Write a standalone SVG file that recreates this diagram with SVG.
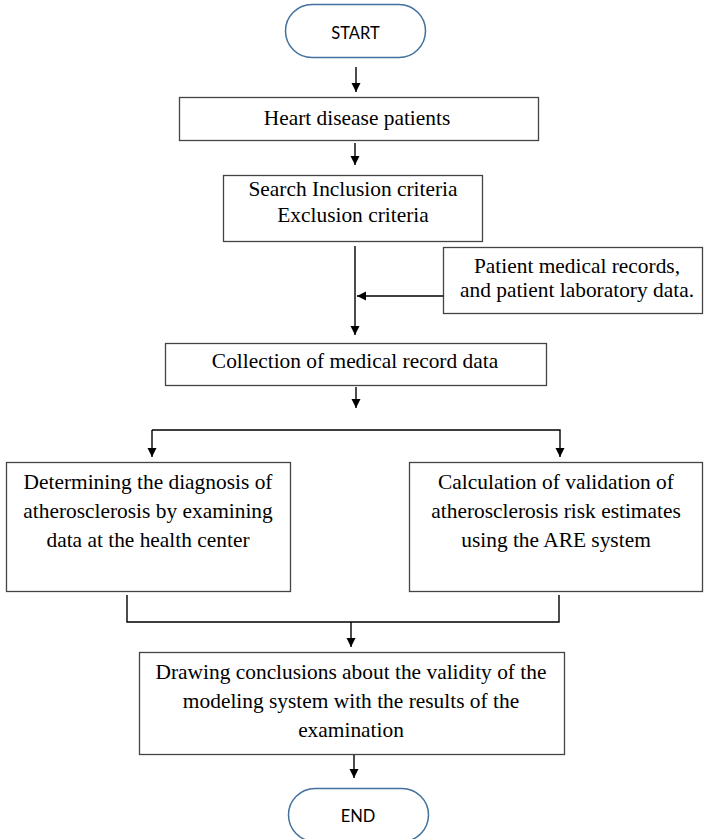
<svg xmlns="http://www.w3.org/2000/svg" width="704" height="839" viewBox="0 0 704 839">
<defs>
<marker id="ah" markerWidth="10" markerHeight="10" refX="9" refY="4.5" orient="auto" markerUnits="userSpaceOnUse">
<path d="M0,0 L9,4.5 L0,9 Z" fill="#000"/>
</marker>
<style>
.box{fill:#fff;stroke:#444;stroke-width:1.3}
.term{fill:#fff;stroke:#41719c;stroke-width:1.5}
.t{font-family:"Liberation Serif","Times New Roman",serif;font-size:21.4px;fill:#000;text-anchor:middle}
.ts{font-family:Lato,"Liberation Sans",sans-serif;font-size:16.5px;fill:#000;text-anchor:middle}
.c{fill:none;stroke:#000;stroke-width:1.4}
</style>
</defs>
<rect width="704" height="839" fill="#fff"/>
<g id="start">
<rect class="term" x="285.5" y="4.5" width="140" height="53" rx="26.5"/>
<text class="ts" x="355.5" y="39">START</text>
</g>
<g id="heart">
<rect class="box" x="179.5" y="97.5" width="359" height="43"/>
<text class="t" x="357" y="125">Heart disease patients</text>
</g>
<g id="search">
<rect class="box" x="223.5" y="175.5" width="259" height="66"/>
<text class="t" x="353" y="196">Search Inclusion criteria</text>
<text class="t" x="353" y="222">Exclusion criteria</text>
</g>
<g id="records">
<rect class="box" x="443.5" y="247.5" width="259" height="66"/>
<text class="t" x="577" y="273">Patient medical records,</text>
<text class="t" x="577" y="297">and patient laboratory data.</text>
</g>
<g id="collection">
<rect class="box" x="165.5" y="343.5" width="381" height="42"/>
<text class="t" x="355" y="368">Collection of medical record data</text>
</g>
<g id="diagnosis">
<rect class="box" x="6.5" y="462.5" width="284" height="129"/>
<text class="t" x="148" y="489">Determining the diagnosis of</text>
<text class="t" x="148" y="518">atherosclerosis by examining</text>
<text class="t" x="148" y="547">data at the health center</text>
</g>
<g id="calculation">
<rect class="box" x="409.5" y="462.5" width="293" height="129"/>
<text class="t" x="556" y="489">Calculation of validation of</text>
<text class="t" x="556" y="518">atherosclerosis risk estimates</text>
<text class="t" x="556" y="547">using the ARE system</text>
</g>
<g id="conclusion">
<rect class="box" x="139.5" y="652.5" width="425" height="102"/>
<text class="t" x="351" y="679">Drawing conclusions about the validity of the</text>
<text class="t" x="351" y="708">modeling system with the results of the</text>
<text class="t" x="351" y="737">examination</text>
</g>
<g id="end">
<rect class="term" x="288.5" y="788.5" width="140" height="53" rx="26.5"/>
<text class="ts" x="358" y="822">END</text>
</g>
<g id="connectors">
<line class="c" x1="356" y1="67" x2="356" y2="92" marker-end="url(#ah)"/>
<line class="c" x1="355" y1="143" x2="355" y2="165" marker-end="url(#ah)"/>
<line class="c" x1="355" y1="246" x2="355" y2="335" marker-end="url(#ah)"/>
<line class="c" x1="443" y1="296" x2="357" y2="296" marker-end="url(#ah)"/>
<line class="c" x1="356" y1="387" x2="356" y2="408" marker-end="url(#ah)"/>
<polyline class="c" points="152,430 560,430 560,457" marker-end="url(#ah)"/>
<line class="c" x1="152" y1="430" x2="152" y2="457" marker-end="url(#ah)"/>
<polyline class="c" points="127,595 127,622 559,622 559,595"/>
<line class="c" x1="351" y1="622" x2="351" y2="647" marker-end="url(#ah)"/>
<line class="c" x1="354" y1="755" x2="354" y2="778" marker-end="url(#ah)"/>
</g>
</svg>
